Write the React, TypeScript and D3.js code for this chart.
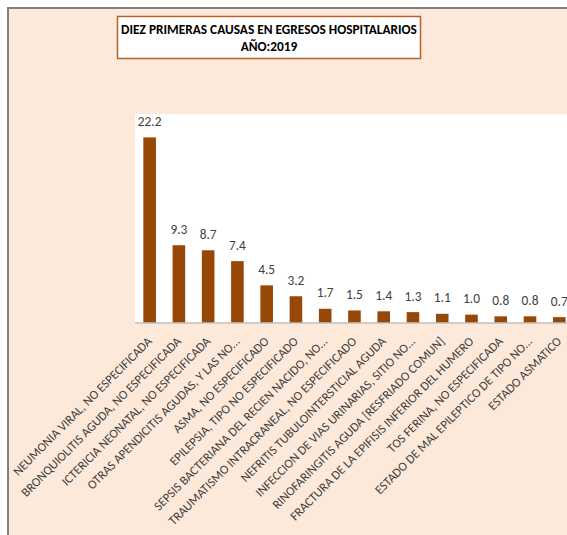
import React, { useEffect, useRef } from "react";
import * as d3 from "d3";

const causes = [
  "NEUMONIA VIRAL, NO ESPECIFICADA",
  "BRONQUIOLITIS AGUDA, NO ESPECIFICADA",
  "ICTERICIA NEONATAL, NO ESPECIFICADA",
  "OTRAS APENDICITIS AGUDAS, Y LAS NO...",
  "ASMA, NO ESPECIFICADO",
  "EPILEPSIA, TIPO NO ESPECIFICADO",
  "SEPSIS BACTERIANA DEL RECIEN NACIDO, NO...",
  "TRAUMATISMO INTRACRANEAL, NO ESPECIFICADO",
  "NEFRITIS TUBULOINTERSTICIAL AGUDA",
  "INFECCION DE VIAS URINARIAS, SITIO NO...",
  "RINOFARINGITIS AGUDA [RESFRIADO COMUN]",
  "FRACTURA DE LA EPIFISIS INFERIOR DEL HUMERO",
  "TOS FERINA, NO ESPECIFICADA",
  "ESTADO DE MAL EPILEPTICO DE TIPO NO...",
  "ESTADO ASMATICO",
];
const percents = [22.2, 9.3, 8.7, 7.4, 4.5, 3.2, 1.7, 1.5, 1.4, 1.3, 1.1, 1.0, 0.8, 0.8, 0.7];
const titleLines = ["DIEZ PRIMERAS CAUSAS EN EGRESOS HOSPITALARIOS", "AÑO:2019"];

const FONT = "Carlito, Calibri, Lato, sans-serif";

const App = () => {
  const svgRef = useRef<SVGSVGElement>(null);
  const width = 567;
  const height = 535;

  useEffect(() => {
    const svg = d3.select(svgRef.current);
    svg.selectAll("*").remove();

    const plot = { left: 135, top: 114, bottom: 323 };
    const step = 29.26;

    // chart background + frame
    svg.append("rect").attr("x", 8).attr("y", 8).attr("width", width).attr("height", height)
      .attr("fill", "#fde9d9").attr("stroke", "#7f7f7f").attr("stroke-width", 2);

    // plot area
    svg.append("rect").attr("x", plot.left).attr("y", plot.top)
      .attr("width", width - plot.left).attr("height", plot.bottom - plot.top).attr("fill", "#ffffff");

    const x = d3.scaleBand()
      .domain(causes)
      .range([plot.left, plot.left + step * causes.length])
      .paddingInner(0.57)
      .paddingOuter(0.285);

    const y = d3.scaleLinear().domain([0, 25]).range([plot.bottom, plot.top]);

    svg.selectAll(".bar")
      .data(percents)
      .enter()
      .append("rect")
      .attr("class", "bar")
      .attr("x", (d, i) => x(causes[i]))
      .attr("y", (d) => y(d))
      .attr("width", x.bandwidth())
      .attr("height", (d) => y(0) - y(d))
      .attr("fill", "#974706");

    // axis line
    svg.append("line").attr("x1", plot.left).attr("x2", width).attr("y1", plot.bottom).attr("y2", plot.bottom)
      .attr("stroke", "#bfbfbf").attr("stroke-width", 1.5);

    // value labels
    svg.selectAll(".val")
      .data(percents)
      .enter()
      .append("text")
      .text((d) => d3.format(".1f")(d))
      .attr("x", (d, i) => x(causes[i]) + x.bandwidth() / 2)
      .attr("y", (d) => y(d) - 11.5)
      .attr("text-anchor", "middle")
      .attr("font-family", FONT)
      .attr("font-size", "13.33px")
      .attr("fill", "#404040");

    // category labels
    svg.selectAll(".cat")
      .data(causes)
      .enter()
      .append("text")
      .text((d) => d)
      .attr("transform", (d) => `translate(${x(d) + x.bandwidth() / 2 + 3},${plot.bottom + 19}) rotate(-45)`)
      .attr("text-anchor", "end")
      .attr("font-family", FONT)
      .attr("font-size", "12.6px")
      .attr("fill", "#404040");

    // title box
    svg.append("rect").attr("x", 117.5).attr("y", 16.5).attr("width", 303).attr("height", 42)
      .attr("fill", "#ffffff").attr("stroke", "#b7612a").attr("stroke-width", 1.5);
    svg.selectAll(".title")
      .data(titleLines)
      .enter()
      .append("text")
      .text((d) => d)
      .attr("x", 269)
      .attr("y", (d, i) => 34 + i * 16.5)
      .attr("text-anchor", "middle")
      .attr("font-family", FONT)
      .attr("font-weight", "bold")
      .attr("font-size", "13.33px")
      .attr("fill", "#000000");
  }, []);

  return (
    <svg ref={svgRef} width={width} height={height}
      style={{ position: "absolute", left: 0, top: 0, display: "block" }} />
  );
};

export default App;
